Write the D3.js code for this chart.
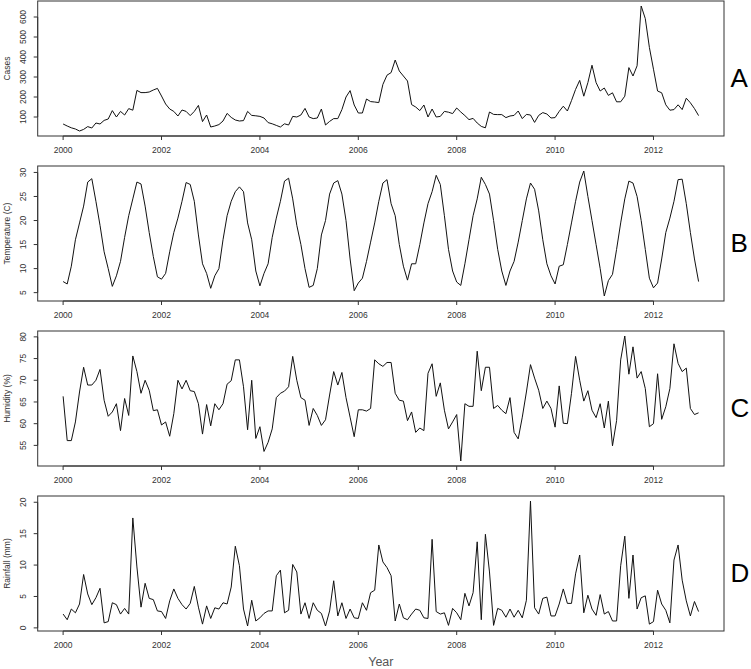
<!DOCTYPE html>
<html>
<head>
<meta charset="utf-8">
<script src="https://cdn.jsdelivr.net/npm/d3@7/dist/d3.min.js"></script>
<style>
  body { margin: 0; background: #fff; }
  svg { display: block; }
  text { font-family: "Liberation Sans", Arial, sans-serif; }
</style>
</head>
<body>
<svg id="chart" width="751" height="669"></svg>
<script>
// ---------------- data (monthly, Jan 2000 .. Dec 2012) ----------------
const startYear = 2000;

const cases = [
  65, 55, 46, 40, 30, 38, 52, 45, 70, 65, 83, 90,
  132, 100, 128, 110, 142, 134, 233, 222, 222, 225, 235, 243,
  205, 165, 140, 128, 105, 135, 128, 107, 128, 158, 77, 110,
  50, 55, 62, 80, 118, 98, 85, 80, 82, 128, 108, 106,
  103, 95, 72, 66, 58, 50, 66, 60, 103, 100, 110, 143,
  100, 92, 95, 140, 60, 78, 92, 92, 137, 200, 232, 160,
  120, 120, 190, 177, 175, 172, 263, 309, 322, 385, 330, 305,
  280, 162, 150, 132, 160, 100, 140, 100, 103, 128, 124, 117,
  145, 125, 107, 87, 93, 70, 53, 46, 125, 113, 112, 112,
  97, 105, 108, 130, 92, 113, 110, 73, 108, 122, 115, 95,
  97, 128, 154, 130, 182, 238, 283, 204, 272, 359, 272, 230,
  245, 208, 221, 176, 176, 204, 347, 305, 356, 655, 592, 448,
  339, 230, 221, 161, 134, 137, 161, 137, 194, 171, 142, 107
];

const temperature = [
  7.3, 6.8, 10.5, 16, 19.5, 23, 28, 28.7, 24, 19, 13.5, 10,
  6.3, 8.5, 11.5, 16.5, 21, 24.5, 28, 27.6, 23, 17.5, 12.5, 8.3,
  7.8, 9, 13.5, 17.5, 20.5, 24, 27.9, 27.5, 24, 17, 11, 9,
  5.9, 8.5, 10, 16, 21, 24, 26, 27, 26, 19.5, 16, 9.5,
  6.4, 9, 11, 16.5, 20.5, 24, 28.2, 28.8, 24.5, 19, 15, 10,
  6.1, 6.5, 10, 17, 20, 25.5, 27.8, 28.3, 25.5, 20, 12, 5.4,
  7, 8, 11.5, 15.5, 19.5, 24, 27.8, 28.5, 23.5, 21, 15, 10.5,
  7.6, 11, 11, 15, 19.5, 23.5, 26, 29.4, 27.5, 21, 14, 9.5,
  7.2, 6.5, 11, 16, 21, 24.5, 29, 27.5, 25.5, 20, 14, 9.5,
  6.5, 9.5, 11.5, 15.5, 20, 24.5, 27.8, 26.5, 22, 16, 11, 8.5,
  6.8, 10.5, 10.8, 15, 19.5, 24, 28, 30.3, 25, 20, 15, 10,
  4.3, 7.5, 8.8, 14, 19.5, 24.5, 28.2, 27.8, 25, 20, 14, 8,
  6, 7, 12, 17.5, 20.5, 24, 28.5, 28.6, 23.5, 17.5, 12, 7.3
];

const humidity = [
  66.3, 56.1, 56.1, 60.4, 67.3, 73, 68.9, 68.9, 70, 72.5, 65.4, 61.7,
  62.7, 64.6, 58.4, 65.8, 61.9, 75.6, 72, 67, 70, 67.7, 63, 63.2,
  59.7, 60.4, 57.1, 62.3, 70, 68, 70, 67.6, 67.4, 64.6, 57.6, 64.4,
  59.5, 64.6, 63.2, 64.6, 69.1, 69.9, 74.7, 74.7, 68.5, 58.6, 70, 56.6,
  59.3, 53.6, 55.7, 58.8, 66, 67, 67.5, 68.5, 75.5, 70, 66, 65.4,
  59.6, 63.5, 61.9, 59.6, 60.9, 66.6, 72, 68.9, 71.8, 66, 61.5, 57,
  63.2, 63.2, 62.9, 63.5, 74.7, 73.8, 73.2, 74.1, 74.1, 67, 65.4, 65.2,
  60.7, 62.7, 58, 59, 58.4, 71.6, 73.8, 66.3, 69.4, 63.1, 58.8, 60.4,
  62.1, 51.4, 64.6, 64, 64, 76.7, 67.6, 73, 73, 63.5, 64.2, 63.1,
  62.3, 66, 58, 56.5, 61.5, 67.3, 73.6, 70.5, 67.7, 63.5, 65.2, 63.5,
  59.2, 68.7, 60.1, 60, 67, 75.5, 70, 65.2, 67.6, 63.1, 61.4, 64.6,
  59, 65.2, 54.9, 60.7, 74.7, 80.2, 71.4, 77.7, 70.5, 72, 68.1, 59.3,
  60, 71.5, 61, 63.9, 68.1, 78.4, 73.9, 72, 72.8, 63.5, 62.1, 62.5
];

const rainfall = [
  2.2, 1.3, 3, 2.4, 3.8, 8.5, 5.4, 3.7, 4.8, 6.3, 0.8, 1,
  4, 3.7, 2.2, 3.1, 2.2, 17.5, 9.7, 3.3, 7.1, 4.7, 4.5, 2.7,
  2.6, 1.5, 4.3, 6.2, 4.7, 3.7, 3, 3.9, 6.6, 3.3, 0.6, 3.5,
  1.5, 3.2, 3, 4, 3.8, 6.5, 13, 9.9, 3, 0.3, 4.4, 1.1,
  1.6, 2.3, 2.7, 2.7, 8.3, 9.2, 2.4, 2.8, 10.1, 8.9, 2.2, 4,
  1.5, 4, 2.8, 2.3, 0.3, 2.7, 7.5, 1.9, 4, 1.5, 3, 1.6,
  1.5, 4, 2.8, 5.6, 6, 13.2, 10.5, 9.6, 8.3, 1.1, 3.8, 1.6,
  1.3, 2.2, 3, 2.8, 1.6, 1.5, 14.1, 2.6, 2.2, 2.4, 0.4, 3.1,
  2.4, 1.3, 5.5, 3.5, 5.6, 13.7, 1.3, 14.9, 8.9, 0.4, 3.1, 2.8,
  1.7, 3, 1.7, 2.8, 1.6, 4.4, 20.2, 3.2, 2.2, 4.7, 4.9, 1.9,
  1.9, 3.8, 6.2, 3.9, 3.9, 8.6, 11.6, 2.4, 5.2, 3, 2, 5.3,
  2.2, 2.6, 1.1, 1.1, 9.9, 14.6, 4.7, 11.6, 3, 4.8, 5.1, 0.6,
  1, 6, 3.8, 2.8, 0.8, 10.8, 13.2, 7.6, 4.3, 1.9, 4.2, 2.6
];

const yearTicks = [2000, 2002, 2004, 2006, 2008, 2010, 2012];
const casesTicks = [100, 200, 300, 400, 500, 600];
const temperatureTicks = [5, 10, 15, 20, 25, 30];
const humidityTicks = [55, 60, 65, 70, 75, 80];
const rainfallTicks = [0, 5, 10, 15, 20];
const yTitles = ["Cases", "Temperature (C)", "Humidity (%)", "Rainfall (mm)"];
const panelLetters = ["A", "B", "C", "D"];
const xTitle = "Year";

// ---------------- drawing ----------------
const svg = d3.select("#chart");
const plotLeft = 37.7, plotRight = 724;
const panelTop0 = 1, panelStep = 165, panelH = 135;
const fontSmall = 8.5;

const series = [cases, temperature, humidity, rainfall];
const tickSets = [casesTicks, temperatureTicks, humidityTicks, rainfallTicks];

const times = cases.map((_, i) => startYear + i / 12);
const tMin = d3.min(times), tMax = d3.max(times);
const tPad = 0.04 * (tMax - tMin);
const x = d3.scaleLinear().domain([tMin - tPad, tMax + tPad]).range([plotLeft, plotRight]);

series.forEach((vals, k) => {
  const top = panelTop0 + k * panelStep;
  const bottom = top + panelH;
  const vMin = d3.min(vals), vMax = d3.max(vals);
  const vPad = 0.04 * (vMax - vMin);
  const y = d3.scaleLinear().domain([vMin - vPad, vMax + vPad]).range([bottom, top]);

  const g = svg.append("g");

  // box
  g.append("rect")
    .attr("x", plotLeft).attr("y", top)
    .attr("width", plotRight - plotLeft).attr("height", panelH)
    .attr("fill", "none").attr("stroke", "#333").attr("stroke-width", 1);

  // x axis ticks & labels
  const xa = g.append("g");
  xa.append("line")
    .attr("x1", x(yearTicks[0])).attr("x2", x(yearTicks[yearTicks.length - 1]))
    .attr("y1", bottom).attr("y2", bottom).attr("stroke", "#333");
  xa.selectAll("line.t").data(yearTicks).join("line").attr("class", "t")
    .attr("x1", d => x(d)).attr("x2", d => x(d))
    .attr("y1", bottom).attr("y2", bottom + 4)
    .attr("stroke", "#333");
  xa.selectAll("text").data(yearTicks).join("text")
    .attr("x", d => x(d)).attr("y", bottom + 17)
    .attr("text-anchor", "middle").attr("font-size", fontSmall).attr("fill", "#333")
    .text(d => d);

  // y axis ticks & labels
  const ticks = tickSets[k];
  const ya = g.append("g");
  ya.append("line")
    .attr("x1", plotLeft).attr("x2", plotLeft)
    .attr("y1", y(ticks[0])).attr("y2", y(ticks[ticks.length - 1])).attr("stroke", "#333");
  ya.selectAll("line.t").data(ticks).join("line").attr("class", "t")
    .attr("x1", plotLeft - 4).attr("x2", plotLeft)
    .attr("y1", d => y(d)).attr("y2", d => y(d))
    .attr("stroke", "#333");
  ya.selectAll("text").data(ticks).join("text")
    .attr("transform", d => `translate(26,${y(d)}) rotate(-90)`)
    .attr("text-anchor", "middle").attr("font-size", fontSmall).attr("fill", "#333")
    .text(d => d);

  // y title
  g.append("text")
    .attr("transform", `translate(10,${(top + bottom) / 2}) rotate(-90)`)
    .attr("text-anchor", "middle").attr("font-size", fontSmall).attr("fill", "#333")
    .text(yTitles[k]);

  // series line
  const line = d3.line().x((d, i) => x(times[i])).y(d => y(d));
  g.append("path").datum(vals)
    .attr("d", line).attr("fill", "none")
    .attr("stroke", "#111").attr("stroke-width", 1).attr("stroke-linejoin", "round");

  // panel letter
  g.append("text")
    .attr("x", 730.5).attr("y", (top + bottom) / 2 + 18)
    .attr("font-size", 26).attr("fill", "#000")
    .text(panelLetters[k]);
});

svg.append("text")
  .attr("x", (plotLeft + plotRight) / 2).attr("y", 666)
  .attr("text-anchor", "middle").attr("font-size", 12.5).attr("fill", "#555")
  .text(xTitle);
</script>
</body>
</html>
